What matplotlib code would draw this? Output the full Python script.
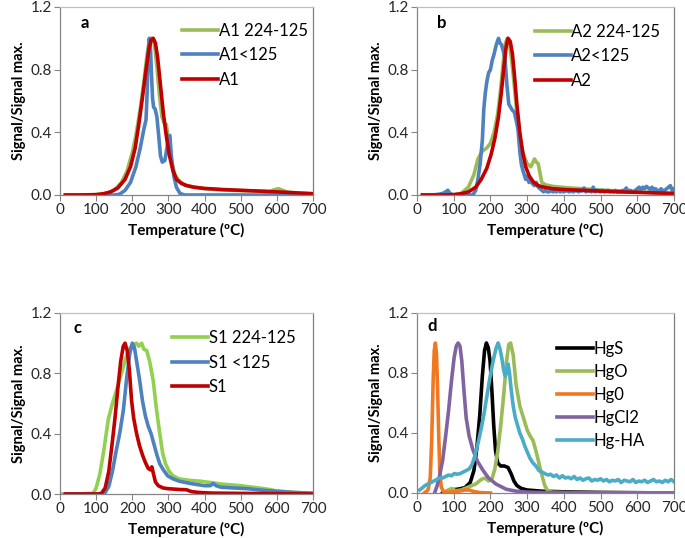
import numpy as np
import matplotlib
matplotlib.use('Agg')
import matplotlib.pyplot as plt

plt.rcParams['font.family'] = ['Lato', 'DejaVu Sans']

# ---- panel a ----
a_green_x = [15, 50, 100, 130, 150, 170, 185, 200, 210, 222, 232, 240, 246, 250, 256, 262, 268, 275, 282, 288, 294, 300, 308, 318, 330, 345, 370, 400, 450, 500, 550, 580, 595, 605, 615, 630, 660, 700]
a_green_y = [0, 0, 0.003, 0.01, 0.03, 0.08, 0.15, 0.27, 0.38, 0.55, 0.72, 0.88, 0.97, 1.0, 1.0, 0.95, 0.82, 0.64, 0.5, 0.46, 0.45, 0.36, 0.22, 0.13, 0.09, 0.065, 0.05, 0.04, 0.032, 0.028, 0.025, 0.022, 0.035, 0.04, 0.03, 0.018, 0.012, 0.008]
a_blue_x = [15, 150, 165, 180, 195, 210, 222, 232, 238, 241, 244, 247, 250, 253, 256, 259, 263, 268, 273, 278, 283, 290, 296, 300, 304, 308, 315, 322, 332, 345, 700]
a_blue_y = [0, 0, 0.005, 0.03, 0.08, 0.18, 0.3, 0.42, 0.48, 0.65, 0.9, 1.0, 0.95, 0.78, 0.62, 0.56, 0.55, 0.5, 0.38, 0.25, 0.21, 0.22, 0.3, 0.37, 0.38, 0.25, 0.12, 0.05, 0.01, 0, 0]
a_red_x = [15, 60, 100, 120, 140, 160, 180, 195, 208, 218, 228, 238, 246, 252, 258, 264, 270, 278, 286, 294, 302, 312, 322, 335, 350, 370, 400, 450, 500, 550, 600, 650, 700]
a_red_y = [0, 0, 0.002, 0.008, 0.02, 0.045, 0.1, 0.18, 0.3, 0.45, 0.62, 0.8, 0.93, 0.99, 1.0, 0.97, 0.88, 0.7, 0.52, 0.38, 0.26, 0.16, 0.1, 0.075, 0.06, 0.05, 0.042, 0.035, 0.03, 0.025, 0.02, 0.014, 0.008]

# ---- panel b ----
b_green_x = [15, 60, 100, 120, 140, 155, 166, 178, 190, 200, 210, 220, 228, 235, 241, 246, 252, 258, 265, 272, 280, 290, 300, 310, 316, 320, 325, 330, 335, 340, 350, 370, 400, 450, 500, 550, 600, 650, 700]
b_green_y = [0, 0, 0.002, 0.01, 0.05, 0.13, 0.23, 0.28, 0.3, 0.33, 0.4, 0.52, 0.68, 0.85, 0.97, 1.0, 0.96, 0.86, 0.7, 0.52, 0.36, 0.26, 0.2, 0.18, 0.21, 0.23, 0.21, 0.2, 0.14, 0.08, 0.065, 0.055, 0.048, 0.04, 0.032, 0.025, 0.02, 0.015, 0.01]
b_red_x = [15, 60, 100, 120, 140, 160, 175, 190, 202, 212, 222, 230, 237, 243, 248, 254, 260, 266, 272, 280, 288, 296, 306, 318, 330, 345, 370, 400, 450, 500, 550, 600, 650, 700]
b_red_y = [0, 0, 0.002, 0.008, 0.02, 0.05, 0.1, 0.17, 0.26, 0.36, 0.5, 0.66, 0.82, 0.95, 1.0, 0.98, 0.9, 0.75, 0.58, 0.4, 0.27, 0.18, 0.12, 0.08, 0.06, 0.05, 0.04, 0.035, 0.03, 0.025, 0.02, 0.017, 0.013, 0.01]
b_blue_x = [15, 40, 60, 70, 78, 84, 90, 100, 120, 140, 152, 160, 166, 172, 178, 182, 186, 190, 195, 200, 205, 210, 215, 219, 222, 226, 230, 235, 240, 245, 250, 255, 260, 265, 270, 275, 280, 284, 288, 292, 296, 300, 305, 310, 315, 320, 325, 330, 335, 340,
            345, 350, 355, 360, 365, 370, 375, 380, 385, 390, 395, 400, 405, 410, 415, 420, 425, 430, 435, 440, 445, 450, 455, 460, 465, 470, 475, 480, 485, 490, 495, 500, 505, 510, 515, 520, 525, 530, 535, 540, 545, 550, 555, 560, 565, 570, 575, 580, 585, 590,
            595, 600, 605, 610, 615, 620, 625, 630, 635, 640, 645, 650, 655, 660, 665, 670, 675, 680, 685, 690, 695, 700]
b_blue_y = [0, 0, 0.005, 0.01, 0.02, 0.03, 0.01, 0.0, 0.0, 0.0, 0.0, 0.03, 0.1, 0.2, 0.35, 0.55, 0.65, 0.72, 0.78, 0.8, 0.86, 0.9, 0.95, 0.98, 1.0, 0.97, 0.96, 0.92, 0.86, 0.7, 0.58, 0.56, 0.54, 0.53, 0.48, 0.42, 0.28, 0.2, 0.16, 0.13, 0.1, 0.12, 0.08, 0.1, 0.07, 0.06, 0.08, 0.05, 0.04, 0.03,
            0.02, 0.03, 0.02, 0.02, 0.03, 0.02, 0.025, 0.02, 0.03, 0.02, 0.025, 0.02, 0.03, 0.025, 0.02, 0.03, 0.02, 0.025, 0.03, 0.02, 0.03, 0.025, 0.045, 0.02, 0.03, 0.025, 0.02, 0.05, 0.02, 0.03, 0.025, 0.02, 0.03, 0.02, 0.025, 0.03, 0.02, 0.025, 0.02, 0.03, 0.02, 0.025, 0.02, 0.03, 0.025, 0.045, 0.02, 0.03, 0.025, 0.02,
            0.03, 0.04, 0.05, 0.035, 0.05, 0.04, 0.055, 0.045, 0.035, 0.05, 0.03, 0.04, 0.025, 0.03, 0.04, 0.025, 0.03, 0.04, 0.05, 0.06, 0.03, 0.04]

# ---- panel c ----
c_green_x = [0, 15, 50, 92, 100, 110, 120, 134, 145, 158, 170, 182, 194, 204, 212, 218, 226, 232, 240, 248, 258, 266, 276, 284, 292, 302, 313, 330, 360, 387, 420, 450, 500, 550, 580, 600, 650, 700]
c_green_y = [0, 0, 0, 0.005, 0.04, 0.13, 0.27, 0.5, 0.6, 0.7, 0.8, 0.9, 0.97, 0.99, 1.0, 0.98, 1.0, 0.96, 0.95, 0.88, 0.75, 0.58, 0.4, 0.27, 0.2, 0.15, 0.12, 0.1, 0.09, 0.085, 0.075, 0.065, 0.055, 0.04, 0.03, 0.02, 0.01, 0.005]
c_blue_x = [15, 60, 110, 125, 135, 145, 155, 165, 175, 185, 193, 200, 206, 212, 220, 228, 236, 244, 252, 260, 268, 276, 286, 298, 313, 330, 360, 400, 416, 424, 432, 445, 480, 520, 560, 600, 650, 700]
c_blue_y = [0, 0, 0, 0.01, 0.05, 0.15, 0.28, 0.4, 0.55, 0.78, 0.93, 1.0, 0.97, 0.88, 0.76, 0.62, 0.52, 0.45, 0.4, 0.33, 0.26, 0.2, 0.16, 0.12, 0.1, 0.085, 0.07, 0.055, 0.055, 0.07, 0.055, 0.045, 0.04, 0.035, 0.025, 0.018, 0.01, 0.005]
c_red_x = [15, 60, 105, 115, 125, 135, 145, 152, 160, 168, 175, 180, 186, 192, 198, 204, 212, 220, 228, 236, 244, 250, 254, 258, 264, 272, 285, 300, 330, 350, 365, 387, 420, 500, 600, 700]
c_red_y = [0, 0, 0, 0.005, 0.04, 0.15, 0.35, 0.5, 0.7, 0.88, 0.98, 1.0, 0.95, 0.82, 0.62, 0.5, 0.4, 0.32, 0.26, 0.21, 0.17, 0.16, 0.18, 0.14, 0.08, 0.055, 0.04, 0.035, 0.03, 0.028, 0.015, 0.01, 0.006, 0.004, 0.002, 0.0]

# ---- panel d ----
d_hgs_x = [70, 90, 110, 130, 145, 155, 163, 171, 178, 184, 189, 194, 199, 204, 209, 214, 220, 228, 238, 248, 256, 264, 272, 284, 300, 340, 400, 500, 600, 700]
d_hgs_y = [0.0, 0.02, 0.025, 0.035, 0.07, 0.15, 0.3, 0.52, 0.78, 0.95, 1.0, 0.97, 0.88, 0.68, 0.45, 0.28, 0.2, 0.18, 0.18, 0.17, 0.13, 0.08, 0.05, 0.03, 0.02, 0.012, 0.008, 0.004, 0.002, 0.0]
d_hgo_x = [75, 85, 95, 105, 120, 140, 160, 175, 185, 195, 205, 212, 220, 228, 236, 244, 250, 255, 262, 270, 280, 290, 300, 308, 316, 324, 332, 340, 348, 357, 370, 400, 500, 600, 700]
d_hgo_y = [0.0, 0.02, 0.03, 0.015, 0.02, 0.04, 0.06, 0.09, 0.1, 0.08, 0.1, 0.16, 0.28, 0.45, 0.65, 0.88, 0.99, 1.0, 0.92, 0.72, 0.58, 0.5, 0.42, 0.38, 0.35, 0.28, 0.2, 0.12, 0.05, 0.01, 0.005, 0.003, 0.002, 0.001, 0.0]
d_hg0_x = [20, 30, 36, 40, 44, 47, 50, 53, 56, 59, 62, 66, 72, 85, 100, 115, 130, 142, 155, 170, 200]
d_hg0_y = [0.0, 0.02, 0.1, 0.35, 0.75, 0.95, 1.0, 0.93, 0.7, 0.4, 0.15, 0.04, 0.01, 0.005, 0.01, 0.012, 0.02, 0.02, 0.01, 0.003, 0.0]
d_hgcl2_x = [48, 55, 62, 70, 78, 86, 94, 101, 107, 112, 117, 122, 128, 134, 142, 152, 165, 180, 195, 215, 243, 270, 300, 350, 400, 500, 600, 700]
d_hgcl2_y = [0.0, 0.05, 0.12, 0.22, 0.38, 0.55, 0.75, 0.9, 0.98, 1.0, 0.98, 0.88, 0.68, 0.5, 0.38, 0.29, 0.21, 0.15, 0.1, 0.06, 0.025, 0.012, 0.006, 0.003, 0.002, 0.001, 0.0, 0.0]
d_hgha_x = [7, 15, 22, 30, 38, 46, 54, 62, 70, 78, 86, 94, 102, 110, 118, 126, 134, 142, 150, 158, 166, 174, 182, 190, 198, 204, 210, 216, 221, 226, 231, 236, 240, 244, 248, 252, 256, 262, 268, 274, 280, 287, 294, 301, 308, 316, 324, 332, 340,
            348, 356, 364, 372, 380, 388, 396, 404, 412, 420, 428, 436, 444, 452, 460, 468, 476, 484, 492, 500, 508, 516, 524, 532, 540, 548, 556, 564, 572, 580, 588, 596, 604, 612, 620, 628, 636, 644, 652, 660, 668, 676, 684, 692, 700]
d_hgha_y = [0.02, 0.035, 0.05, 0.06, 0.07, 0.08, 0.09, 0.1, 0.1, 0.11, 0.12, 0.115, 0.13, 0.125, 0.13, 0.14, 0.15, 0.16, 0.19, 0.25, 0.33, 0.42, 0.52, 0.64, 0.76, 0.84, 0.91, 0.97, 1.0, 0.96, 0.9, 0.82, 0.78, 0.8, 0.86, 0.8, 0.7, 0.58, 0.5, 0.45, 0.4, 0.36, 0.31, 0.27, 0.23, 0.2, 0.18, 0.15, 0.14,
            0.13, 0.12, 0.125, 0.11, 0.12, 0.1, 0.115, 0.1, 0.105, 0.095, 0.11, 0.09, 0.1, 0.085, 0.095, 0.1, 0.08, 0.09, 0.085, 0.095, 0.08, 0.09, 0.075, 0.085, 0.08, 0.09, 0.07, 0.085, 0.08, 0.075, 0.09, 0.07, 0.08, 0.075, 0.085, 0.07, 0.08, 0.09, 0.075, 0.08, 0.07, 0.085, 0.075, 0.09, 0.075]

GREEN = '#9BBB59'
LGREEN = '#92D050'
BLUE = '#4F81BD'
RED = '#C00000'
ORANGE = '#F07820'
PURPLE = '#8064A2'
CYAN = '#4BACC6'
LW = 2.6

fig = plt.figure(figsize=(6.85, 5.38), dpi=100)
W, H = 685, 538


def make_ax(left, right, top, bottom):
    ax = fig.add_axes([left / W, 1 - bottom / H, (right - left) / W, (bottom - top) / H])
    ax.set_xlim(0, 700)
    ax.set_ylim(0, 1.2)
    ax.set_xticks(np.arange(0, 701, 100))
    ax.set_yticks([0, 0.4, 0.8, 1.2])
    ax.set_yticklabels(['0.0', '0.4', '0.8', '1.2'])
    ax.spines['top'].set_color('#BFBFBF')
    ax.spines['right'].set_color('#7F7F7F')
    for s in ['left', 'bottom']:
        ax.spines[s].set_color('#868686')
    for s in ax.spines:
        ax.spines[s].set_linewidth(0.9)
    ax.tick_params(direction='out', length=4, width=0.8, color='#868686', labelsize=11, labelcolor='#262626', pad=2)
    ax.set_xlabel('Temperature (ºC)', fontsize=11, fontweight='bold', labelpad=4)
    ax.set_ylabel('Signal/Signal max.', fontsize=10.5, fontweight='bold', labelpad=3)
    return ax


def add_legend(ax, x, y, spacing=0.5):
    ax.legend(loc='upper left', bbox_to_anchor=(x, y), frameon=False, fontsize=12,
              handlelength=2.15, handletextpad=0.05, labelspacing=spacing, borderpad=0, borderaxespad=0)


ax = make_ax(60, 313, 7, 195)
ax.plot(a_green_x, a_green_y, color=GREEN, lw=LW, label='A1 224-125')
ax.plot(a_blue_x, a_blue_y, color=BLUE, lw=LW, label='A1<125')
ax.plot(a_red_x, a_red_y, color=RED, lw=LW, label='A1')
add_legend(ax, 0.483, 0.915)
ax.text(0.08, 0.915, 'a', transform=ax.transAxes, fontsize=12, fontweight='bold', va='center')

ax = make_ax(417, 674, 7, 195)
ax.plot(b_green_x, b_green_y, color=GREEN, lw=LW, label='A2 224-125')
ax.plot(b_blue_x, b_blue_y, color=BLUE, lw=LW, label='A2<125')
ax.plot(b_red_x, b_red_y, color=RED, lw=LW, label='A2')
add_legend(ax, 0.458, 0.91)
ax.text(0.078, 0.915, 'b', transform=ax.transAxes, fontsize=12, fontweight='bold', va='center')

ax = make_ax(60, 313, 313, 494)
ax.plot(c_green_x, c_green_y, color=LGREEN, lw=LW, label='S1 224-125')
ax.plot(c_blue_x, c_blue_y, color=BLUE, lw=LW, label='S1 <125')
ax.plot(c_red_x, c_red_y, color=RED, lw=LW, label='S1')
add_legend(ax, 0.443, 0.905)
ax.text(0.055, 0.915, 'c', transform=ax.transAxes, fontsize=12, fontweight='bold', va='center')

ax = make_ax(417, 674, 313, 493)
ax.plot(d_hgs_x, d_hgs_y, color='black', lw=LW, label='HgS')
ax.plot(d_hgo_x, d_hgo_y, color=GREEN, lw=LW, label='HgO')
ax.plot(d_hg0_x, d_hg0_y, color=ORANGE, lw=LW, label='Hg0')
ax.plot(d_hgcl2_x, d_hgcl2_y, color=PURPLE, lw=LW, label='HgCl2')
ax.plot(d_hgha_x, d_hgha_y, color=CYAN, lw=LW, label='Hg-HA')
add_legend(ax, 0.545, 0.845, spacing=0.42)
ax.text(0.04, 0.93, 'd', transform=ax.transAxes, fontsize=12, fontweight='bold', va='center')

fig.savefig('out.png', dpi=100, facecolor='white')
